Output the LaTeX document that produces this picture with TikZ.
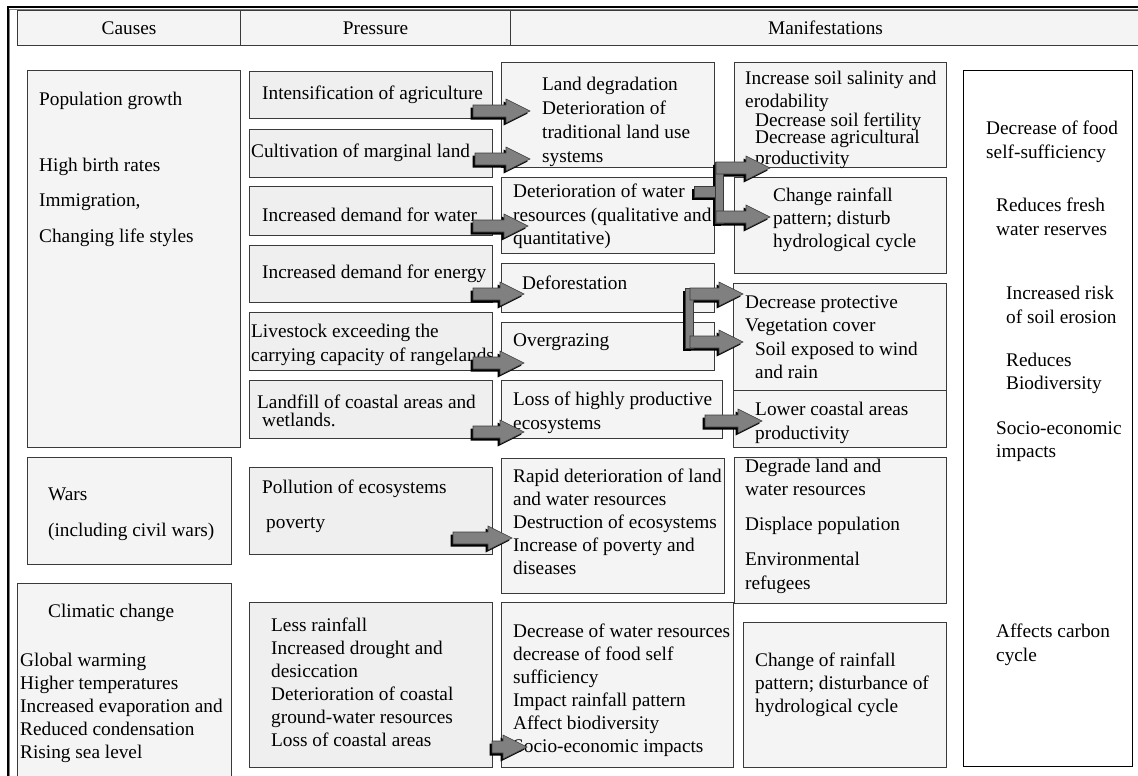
\documentclass[tikz,border=0pt]{standalone}
\usepackage{fontspec}
\setmainfont{Liberation Serif}
\usetikzlibrary{calc}

\definecolor{cellfill}{HTML}{F4F4F4}
\definecolor{midfill}{HTML}{EFEFEF}
\definecolor{edge}{HTML}{3A3A3A}
\definecolor{arrowgray}{HTML}{808080}

\tikzset{
  every node/.style={font=\fontsize{19.3}{23.5}\selectfont},
  box/.style={draw=edge, line width=1.1pt, fill=cellfill, inner sep=0pt, anchor=north west},
  midbox/.style={box, fill=midfill},
  whitebox/.style={box, fill=white, draw=black},
  txt/.style={anchor=north west, inner sep=0pt, align=left, yshift=10pt},
  arrowbody/.style={fill=arrowgray, draw=edge, line width=0.6pt},
  arrowshade/.style={fill=black},
}

% rectangle node from its top-left and bottom-right corners
\newcommand\cellbox[6][]{%
  \node[box,#1,minimum width={(#5-#3)*1pt},minimum height={(#6-#4)*1pt}] (#2) at (#3,#4) {};}

% outline of a block arrow from tail #1 to tip #2, shifted by #3
\newcommand\arrowoutline[3]{%
  ($(#1)+(#3)+(0,-6)$) -- ($(#2)+(#3)+(-24,-6)$) -- ($(#2)+(#3)+(-24,-12)$) --
  ($(#2)+(#3)$) -- ($(#2)+(#3)+(-24,12)$) -- ($(#2)+(#3)+(-24,6)$) --
  ($(#1)+(#3)+(0,6)$) -- cycle}
\newcommand\arrowshade[2]{\path[arrowshade] \arrowoutline{#1}{#2}{-2.5,2.5};}
\newcommand\arrowbody[2]{\path[arrowbody] \arrowoutline{#1}{#2}{0,0};}
\newcommand\blockarrow[2]{\arrowshade{#1}{#2}\arrowbody{#1}{#2}}

\begin{document}
\begin{tikzpicture}[x=1pt,y=-1pt]
\useasboundingbox (0,0) rectangle (1138,776);
\fill[white] (0,0) rectangle (1138,776);

% page frame
\draw[black, line width=2pt] (7.5,776) -- (7.5,7.5) -- (1138,7.5);
\draw[gray, line width=0.8pt] (9.8,776) -- (9.8,9.8) -- (1138,9.8);

% header row
\node[box,minimum width=223pt,minimum height=35pt] (hcause) at (17,10) {Causes};
\node[box,minimum width=270pt,minimum height=35pt] (hpress) at (240,10) {Pressure};
\node[box,minimum width=630pt,minimum height=35pt] (hmanif) at (510,10) {Manifestations};

% causes
\cellbox{pop}{27}{70}{240}{447}
\cellbox{wars}{27}{457}{231}{564}
\cellbox{clim}{17}{583}{231}{776}

% pressures
\cellbox[midbox]{p1}{249}{71}{492}{118}
\cellbox[midbox]{p2}{249}{129}{492}{177}
\cellbox[midbox]{p3}{249}{186}{492}{235}
\cellbox[midbox]{p4}{249}{245}{492}{302}
\cellbox[midbox]{p5}{249}{312}{492}{370}
\cellbox[midbox]{p6}{249}{380}{492}{438}
\cellbox[midbox]{p7}{249}{467}{492}{554}
\cellbox[midbox]{p8}{249}{602}{492}{767}

% first manifestations
\cellbox{m1}{501}{62}{714}{167}
\cellbox{m2}{501}{177}{714}{253}
\cellbox{m3}{501}{263}{714}{312}
\cellbox{m4}{501}{322}{714}{370}
\cellbox{m5}{501}{380}{722}{438}
\cellbox{m6}{501}{458}{724}{593}
\cellbox{m7}{501}{602}{733}{767}

% further manifestations
\cellbox{n1}{734}{62}{946}{167}
\cellbox{n2}{734}{177}{946}{273}
\cellbox{n3}{733}{283}{946}{390}
\cellbox{n4}{733}{390}{946}{447}
\cellbox{n5}{734}{457}{946}{603}
\cellbox{n6}{743}{622}{946}{767}

% impacts
\cellbox[whitebox]{imp}{963}{70}{1132}{766}

% texts: causes
\node[txt] (tpop1) at (39,99) {\strut Population growth};
\node[txt] (tpop2) at (39,165) {\strut High birth rates};
\node[txt] (tpop3) at (39,200) {\strut Immigration,};
\node[txt] (tpop4) at (39,236) {\strut Changing life styles};
\node[txt] (twar1) at (48,494) {\strut Wars};
\node[txt] (twar2) at (48,530) {\strut (including civil wars)};
\node[txt] (tcli1) at (48,611) {\strut Climatic change};
\node[txt,font=\fontsize{19.3}{23}\selectfont] (tcli2) at (20,660)
  {\strut Global warming\\Higher temperatures\\Increased evaporation and\\Reduced condensation\\Rising sea level};

% texts: pressures
\node[txt] (tp1) at (262,93) {\strut Intensification of agriculture};
\node[txt] (tp2) at (251,151) {\strut Cultivation of marginal land};
\node[txt] (tp3) at (262,215) {\strut Increased demand for water};
\node[txt] (tp4) at (262,272) {\strut Increased demand for energy};
\node[txt] (tp5) at (251,331) {\strut Livestock exceeding the\\carrying capacity of rangelands};
\node[txt] (tp6a) at (257,402) {\strut Landfill of coastal areas and};
\node[txt] (tp6b) at (262,420) {\strut wetlands.};
\node[txt] (tp7a) at (262,487) {\strut Pollution of ecosystems};
\node[txt] (tp7b) at (266,522) {\strut poverty};
\node[txt,font=\fontsize{19.3}{23}\selectfont] (tp8) at (271,625)
  {\strut Less rainfall\\Increased drought and\\desiccation\\Deterioration of coastal\\ground-water resources\\Loss of coastal areas};

% texts: first manifestations
\node[txt,font=\fontsize{19.3}{24}\selectfont] (tm1) at (542,83)
  {\strut Land degradation\\Deterioration of\\traditional land use\\systems};
\node[txt] (tm2) at (513,191) {\strut Deterioration of water\\resources (qualitative and\\quantitative)};
\node[txt] (tm3) at (522,283) {\strut Deforestation};
\node[txt] (tm4) at (513,340) {\strut Overgrazing};
\node[txt] (tm5) at (513,399) {\strut Loss of highly productive\\ecosystems};
\node[txt,font=\fontsize{19.3}{23}\selectfont] (tm6) at (513,476)
  {\strut Rapid deterioration of land\\and water resources\\Destruction of ecosystems\\Increase of poverty and\\diseases};
\node[txt,font=\fontsize{19.3}{23}\selectfont] (tm7) at (513,631)
  {\strut Decrease of water resources\\decrease of food self\\sufficiency\\Impact rainfall pattern\\Affect biodiversity\\Socio-economic impacts};

% texts: further manifestations
\node[txt,font=\fontsize{19.3}{22.5}\selectfont] (tn1a) at (745,79) {\strut Increase soil salinity and\\erodability};
\node[txt] (tn1b) at (755,119.5) {\strut Decrease soil fertility};
\node[txt,font=\fontsize{19.3}{20.5}\selectfont] (tn1c) at (755,139) {\strut Decrease agricultural\\productivity};
\node[txt,font=\fontsize{19.3}{23}\selectfont] (tn2) at (773,195) {\strut Change rainfall\\pattern; disturb\\hydrological cycle};
\node[txt,font=\fontsize{19.3}{23}\selectfont] (tn3a) at (745,302) {\strut Decrease protective\\Vegetation cover};
\node[txt,font=\fontsize{19.3}{23}\selectfont] (tn3b) at (755,349) {\strut Soil exposed to wind\\and rain};
\node[txt,font=\fontsize{19.3}{24}\selectfont] (tn4) at (755,408) {\strut Lower coastal areas\\productivity};
\node[txt,font=\fontsize{19.3}{23}\selectfont] (tn5a) at (745,466) {\strut Degrade land and\\water resources};
\node[txt] (tn5b) at (745,524) {\strut Displace population};
\node[txt,font=\fontsize{19.3}{24}\selectfont] (tn5c) at (745,558) {\strut Environmental\\refugees};
\node[txt,font=\fontsize{19.3}{23}\selectfont] (tn6) at (755,660) {\strut Change of rainfall\\pattern; disturbance of\\hydrological cycle};

% texts: impacts
\node[txt,font=\fontsize{19.3}{24}\selectfont] (ti1) at (986,127) {\strut Decrease of food\\self-sufficiency};
\node[txt,font=\fontsize{19.3}{24}\selectfont] (ti2) at (996,204) {\strut Reduces fresh\\water reserves};
\node[txt,font=\fontsize{19.3}{24}\selectfont] (ti3) at (1006,292) {\strut Increased risk\\of soil erosion};
\node[txt,font=\fontsize{19.3}{23}\selectfont] (ti4) at (1006,360) {\strut Reduces\\Biodiversity};
\node[txt,font=\fontsize{19.3}{23}\selectfont] (ti5) at (996,428) {\strut Socio-economic\\impacts};
\node[txt,font=\fontsize{19.3}{24}\selectfont] (ti6) at (996,630) {\strut Affects carbon\\cycle};

% arrow end points
\coordinate (a1t) at (473,111); \coordinate (a1h) at (530,111);
\coordinate (a2t) at (475,159); \coordinate (a2h) at (530,159);
\coordinate (a3t) at (473,226); \coordinate (a3h) at (528,226);
\coordinate (a4t) at (473,294); \coordinate (a4h) at (524,294);
\coordinate (a5t) at (473,363); \coordinate (a5h) at (524,363);
\coordinate (a6t) at (473,432); \coordinate (a6h) at (524,432);
\coordinate (a7t) at (453,538); \coordinate (a7h) at (512,538);
\coordinate (a8t) at (492,747); \coordinate (a8h) at (527,747);
\coordinate (a9t) at (705,421); \coordinate (a9h) at (762,421);

% fork from water resources to soil and rainfall
\coordinate (fa1) at (694,186); \coordinate (fa2) at (716,197);
\coordinate (fb1) at (715,162); \coordinate (fb2) at (723,223);
\coordinate (f1t) at (716,168); \coordinate (f1h) at (770,168);
\coordinate (f2t) at (716,217); \coordinate (f2h) at (770,217);

% fork from deforestation and overgrazing to vegetation cover
\coordinate (gb1) at (685,288); \coordinate (gb2) at (693,348);
\coordinate (g1t) at (690,294); \coordinate (g1h) at (743,294);
\coordinate (g2t) at (690,342); \coordinate (g2h) at (743,342);

\blockarrow{a1t}{a1h}
\blockarrow{a2t}{a2h}
\blockarrow{a3t}{a3h}
\blockarrow{a4t}{a4h}
\blockarrow{a5t}{a5h}
\blockarrow{a6t}{a6h}
\blockarrow{a7t}{a7h}
\blockarrow{a8t}{a8h}
\blockarrow{a9t}{a9h}

% forks: shadows first, then bodies
\path[arrowshade] ($(fa1)+(-2.5,2.5)$) rectangle ($(fa2)+(-2.5,2.5)$);
\path[arrowshade] ($(fb1)+(-2.5,2.5)$) rectangle ($(fb2)+(-2.5,2.5)$);
\arrowshade{f1t}{f1h}
\arrowshade{f2t}{f2h}
\path[arrowshade] ($(gb1)+(-2.5,2.5)$) rectangle ($(gb2)+(-2.5,2.5)$);
\arrowshade{g1t}{g1h}
\arrowshade{g2t}{g2h}
\path[arrowbody] (fa1) rectangle (fa2);
\path[arrowbody] (fb1) rectangle (fb2);
\arrowbody{f1t}{f1h}
\arrowbody{f2t}{f2h}
\path[arrowbody] (gb1) rectangle (gb2);
\arrowbody{g1t}{g1h}
\arrowbody{g2t}{g2h}
\end{tikzpicture}
\end{document}
